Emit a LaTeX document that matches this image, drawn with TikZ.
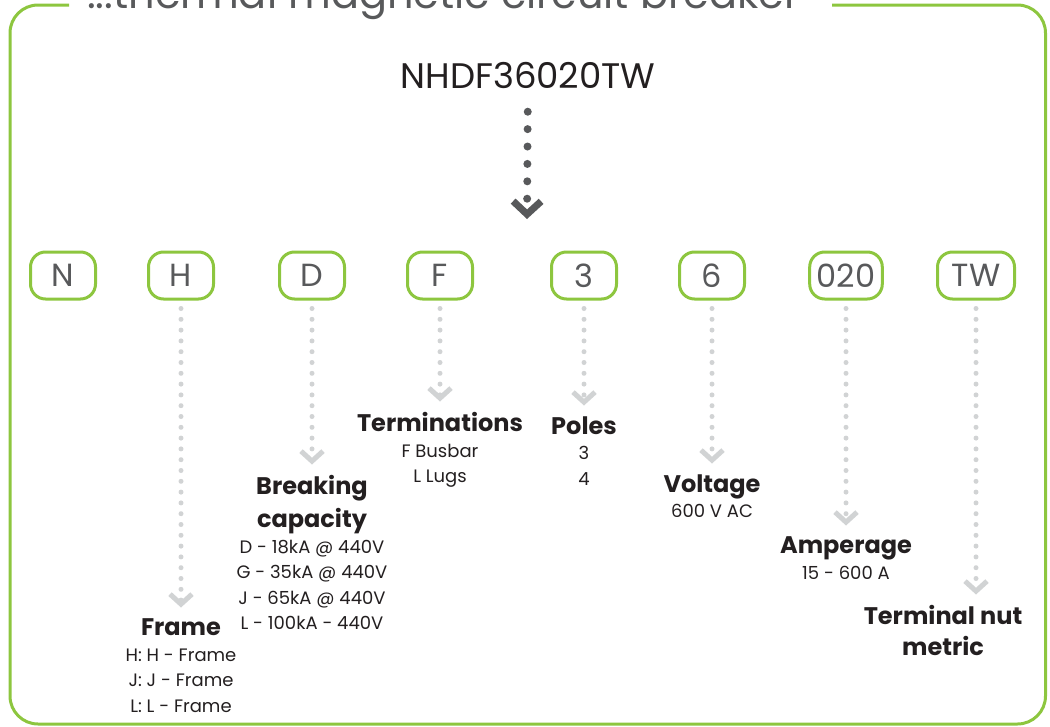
\documentclass[tikz,border=0pt]{standalone}
\usepackage{fontspec}
\setmainfont{Poppins}
\usepackage{tikz}
\usetikzlibrary{positioning,arrows.meta}
\definecolor{brandgreen}{HTML}{8DC63F}
\definecolor{letgray}{HTML}{58595B}
\definecolor{inkblack}{HTML}{231F20}
\definecolor{dotgray}{HTML}{D1D3D4}
\newcommand\hd[1]{{\fontsize{24}{32}\selectfont\bfseries #1}}

\begin{document}
\begin{tikzpicture}[x=1pt, y=1pt,
        node distance = 0pt,
        part/.style = {draw=brandgreen, line width=3pt, rounded corners=15pt, minimum width=65pt, minimum height=47pt, inner xsep=7pt, inner ysep=0pt, text=letgray, font=\fontsize{32}{38}\selectfont},
        info/.style = {align=center, inner sep=0pt, text=inkblack, font=\fontsize{18}{25.5}\selectfont},
        conn/.style = {draw=dotgray, line width=5pt, line cap=round, dash pattern=on 0pt off 10.8pt, shorten <=8pt, shorten >=11pt, -{Straight Barb[length=10pt, width=22pt, line width=5pt, sharp]}},
        topconn/.style = {draw=letgray, line width=8pt, line cap=round, dash pattern=on 0pt off 17.4pt, shorten <=20pt, -{Straight Barb[length=13pt, width=28pt, line width=7pt, sharp]}}
    ]
    \clip (0,0) rectangle (1050,-726);
    \draw[brandgreen, line width=3pt, rounded corners=28pt] (69,-5) -- (10,-5) -- (10,-724) -- (1045.5,-724) -- (1045.5,-5) -- (832,-5);
    \node (title) [anchor=base west, inner sep=0pt, text=letgray, font=\fontsize{41.5}{48}\selectfont] at (87,-8) {...thermal magnetic circuit breaker};
%
    \node (code) [text=inkblack, font=\fontsize{35.5}{42}\selectfont] at (528,-75) {NHDF36020TW};
    \coordinate (split) at (527,-219);
    \draw[topconn] (code) -- (split);
%
    \node (bN)  [part] at (63,-275.5)  {N};
    \node (bH)  [part] at (181,-275.5) {H};
    \node (bD)  [part] at (312,-275.5) {D};
    \node (bF)  [part] at (440,-275.5) {F};
    \node (b3)  [part] at (584,-275.5) {3};
    \node (b6)  [part] at (712,-275.5) {6};
    \node (b020)[part] at (846,-275.5) {020};
    \node (bTW) [part, minimum width=77pt] at (976,-275.5) {TW};
%
    \node (lH)  [info, below=318pt of bH]   {\hd{Frame}\\H: H - Frame\\J: J - Frame\\L: L - Frame};
    \node (lD)  [info, below=175pt of bD]   {\hd{Breaking}\\[6pt]\hd{capacity}\\D - 18kA @ 440V\\G - 35kA @ 440V\\J - 65kA @ 440V\\L - 100kA - 440V};
    \node (lF)  [info, below=112pt of bF]   {\hd{Terminations}\\F Busbar\\L Lugs};
    \node (l3)  [info, below=116pt of b3]   {\hd{Poles}\\3\\4};
    \node (l6)  [info, below=174pt of b6]   {\hd{Voltage}\\600 V AC};
    \node (l020)[info, below=236pt of b020] {\hd{Amperage}\\15 - 600 A};
    \node (lTW) [info, below=305pt of bTW, xshift=-33pt] {\hd{Terminal nut}\\[5pt]\hd{metric}};
%
    \draw[conn] (bH) -- (lH);
    \draw[conn] (bD) -- (lD);
    \draw[conn] (bF) -- (lF);
    \draw[conn] (b3) -- (l3);
    \draw[conn] (b6) -- (l6);
    \draw[conn] (b020) -- (l020);
    \draw[conn] (bTW) -- (bTW |- lTW.north);
\end{tikzpicture}
\end{document}
